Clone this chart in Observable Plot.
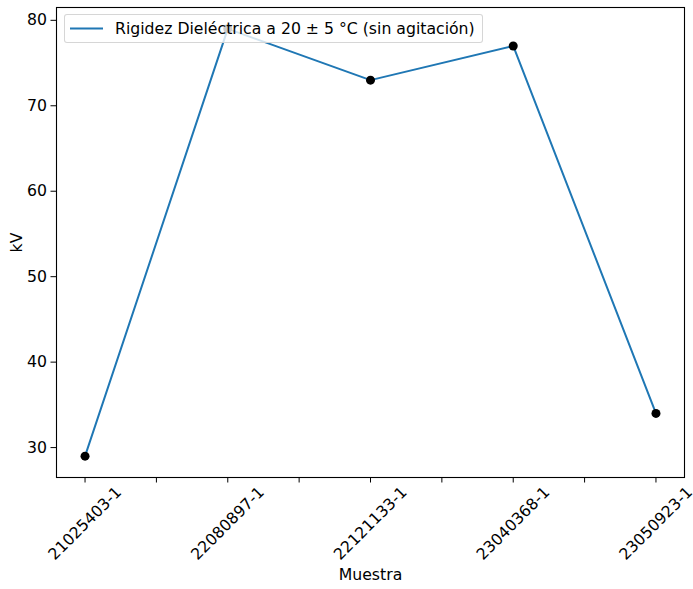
<!DOCTYPE html>
<html>
<head>
<meta charset="utf-8">
<script src="https://cdn.jsdelivr.net/npm/d3@7"></script>
<script src="https://cdn.jsdelivr.net/npm/@observablehq/plot@0.6"></script>
<style>
  body { margin: 0; background: #fff; font-family: "DejaVu Sans", sans-serif; }
  #wrap { position: relative; width: 693px; height: 589px; }
  #legend {
    position: absolute; left: 64px; top: 14px; width: 419px; height: 29px;
    box-sizing: border-box; border: 1px solid rgba(204,204,204,0.8); border-radius: 3px;
    background: rgba(255,255,255,0.8); font-size: 15.7px; color: #000;
  }
  #legend svg { position: absolute; left: 0; top: 0; }
  #legend span { position: absolute; left: 50px; top: 4px; white-space: nowrap; line-height: 19px; }
</style>
</head>
<body>
<div id="wrap"></div>
<script>
// Sample identifiers and dielectric strength in kV
const muestras = ["21025403-1", "22080897-1", "22121133-1", "23040368-1", "23050923-1"];
const kv = [29, 79, 73, 77, 34];
const yTicks = [30, 40, 50, 60, 70, 80];
const serieNombre = "Rigidez Dieléctrica a 20 ± 5 °C (sin agitación)";

const data = muestras.map((m, i) => ({i, muestra: m, kv: kv[i]}));
const fs = 15.7;

const chart = Plot.plot({
  width: 693,
  height: 589,
  marginLeft: 56,
  marginRight: 9,
  marginTop: 7,
  marginBottom: 112,
  style: {fontFamily: "DejaVu Sans, sans-serif", fontSize: fs + "px", color: "#000", background: "#fff"},
  x: {type: "linear", domain: [-0.2, 4.2]},
  y: {domain: [26.5, 81.5]},
  marks: [
    Plot.axisY({ticks: yTicks, tickSize: 5.5, tickPadding: 4, fontSize: fs, label: null}),
    Plot.axisX({ticks: d3.range(0, 4.01, 0.5), tickSize: 5.5, tickFormat: () => "", label: null}),
    Plot.line(data, {x: "i", y: "kv", stroke: "#1f77b4", strokeWidth: 2}),
    Plot.dot(data, {x: "i", y: "kv", r: 4.5, fill: "#000", stroke: null}),
    Plot.frame({stroke: "#000", strokeWidth: 1.1}),
    // rotated sample labels under each tick
    Plot.text(data, {x: "i", text: "muestra", frameAnchor: "bottom", dy: 46, rotate: -45,
      textAnchor: "middle", lineAnchor: "middle", fontSize: fs, fill: "#000"}),
    Plot.text(["Muestra"], {frameAnchor: "bottom", dy: 97, textAnchor: "middle", lineAnchor: "middle",
      fontSize: fs, fill: "#000"}),
    Plot.text(["kV"], {frameAnchor: "left", dx: -40, rotate: -90, textAnchor: "middle", lineAnchor: "middle",
      fontSize: fs, fill: "#000"})
  ]
});

const wrap = document.getElementById("wrap");
wrap.appendChild(chart);

// legend box drawn over the plot area
const legend = document.createElement("div");
legend.id = "legend";
legend.innerHTML =
  '<svg width="60" height="29"><line x1="5" y1="13.5" x2="38" y2="13.5" stroke="#1f77b4" stroke-width="2"/></svg>' +
  '<span></span>';
legend.querySelector("span").textContent = serieNombre;
wrap.appendChild(legend);
</script>
</body>
</html>
